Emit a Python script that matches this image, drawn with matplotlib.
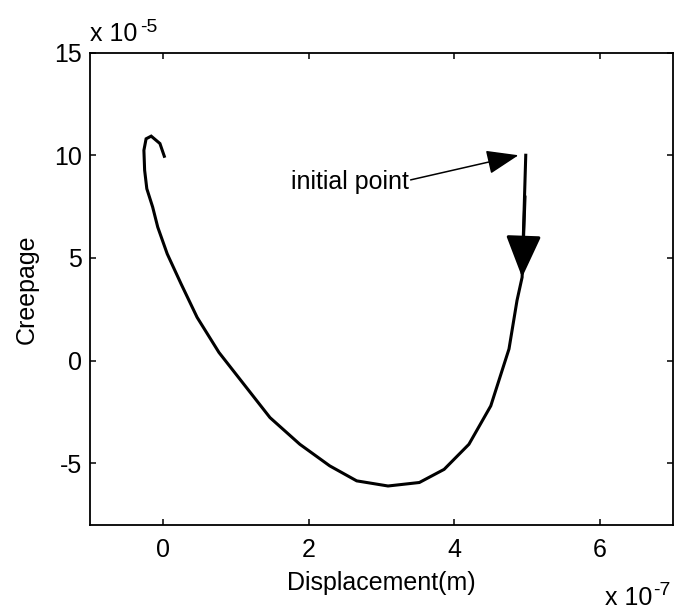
import numpy as np
import matplotlib
matplotlib.use('Agg')
import matplotlib.pyplot as plt

plt.rcParams['font.family'] = ['Liberation Sans', 'DejaVu Sans']

# trajectory, x in units of 1e-7 m, y in units of 1e-5
disp = [4.98, 4.93, 4.86, 4.75, 4.50, 4.20, 3.86, 3.52, 3.09, 2.66, 2.29,
        1.88, 1.47, 1.11, 0.77, 0.47, 0.25, 0.06, -0.07, -0.14, -0.22,
        -0.25, -0.26, -0.23, -0.16, -0.04, 0.02]
creep = [10.0, 4.06, 2.93, 0.57, -2.20, -4.07, -5.29, -5.93, -6.10, -5.85,
         -5.12, -4.07, -2.77, -1.14, 0.40, 2.11, 3.74, 5.20, 6.50, 7.48,
         8.37, 9.27, 10.24, 10.80, 10.93, 10.57, 9.95]

xticks = [0, 2, 4, 6]
yticks = [-5, 0, 5, 10, 15]

FS = 18

fig = plt.figure(figsize=(6.76, 6.1), dpi=100)
ax = fig.add_axes([0.1331, 0.1393, 0.8624, 0.7746])

ax.plot(disp, creep, color='k', lw=2.2, solid_joinstyle='miter')

# direction arrow on the path
ax.annotate('', xy=(disp[1], creep[1]), xytext=(disp[0] - 0.01, 8.0),
            arrowprops=dict(arrowstyle='-|>,head_length=26,head_width=11',
                            mutation_scale=1, color='k', lw=2.2,
                            shrinkA=0, shrinkB=0))

# label for the start point
ax.text(3.38, 8.68, 'initial point', fontsize=FS, ha='right', va='center')
ax.annotate('', xy=(4.88, 10.0), xytext=(3.40, 8.80),
            arrowprops=dict(arrowstyle='-|>,head_length=20,head_width=7.5',
                            mutation_scale=1, color='k', lw=1.1,
                            shrinkA=0, shrinkB=0))

ax.set_xlim(-1, 7)
ax.set_ylim(-8, 15)
ax.set_xticks(xticks)
ax.set_yticks(yticks)
ax.set_xticklabels([str(t) for t in xticks])
ax.set_yticklabels([str(t) for t in yticks])
ax.tick_params(direction='in', length=4, width=1.1, top=True, right=True,
               labelsize=FS)
ax.tick_params(axis='x', pad=9)
ax.tick_params(axis='y', pad=6)
for s in ax.spines.values():
    s.set_linewidth(1.3)

ax.set_xlabel('Displacement(m)', fontsize=FS, labelpad=7)
ax.set_ylabel('Creepage', fontsize=FS, labelpad=11)

# MATLAB style exponent labels
fig.text(0.1331, 0.932, 'x 10', fontsize=FS, ha='left', va='baseline')
fig.text(0.2071, 0.948, '-5', fontsize=14, ha='left', va='baseline')
fig.text(0.895, 0.0082, 'x 10', fontsize=FS, ha='left', va='baseline')
fig.text(0.966, 0.0246, '-7', fontsize=14, ha='left', va='baseline')

fig.savefig('out.png', dpi=100)
